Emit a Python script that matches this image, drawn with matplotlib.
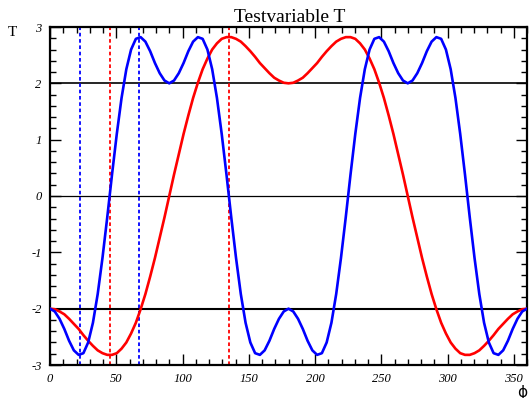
#!/usr/bin/env python3
"""Testvariable T vs phi — ROOT-style recreation (out.png)."""

import matplotlib
matplotlib.use("Agg")
import matplotlib.pyplot as plt
import numpy as np
from matplotlib.ticker import MultipleLocator

plt.rcParams["axes.unicode_minus"] = False

# --------------------------------------------------------------------------- #
# data (101 samples over 0..360 deg)
# --------------------------------------------------------------------------- #
PHI_MIN, PHI_MAX = 0.0, 360.0
N_POINTS = 101

T_RED = [
    -2.00, -2.01, -2.05, -2.10, -2.18, -2.27, -2.36, -2.47, -2.57, -2.66,
    -2.74, -2.79, -2.82, -2.82, -2.79, -2.71, -2.60, -2.44, -2.25, -2.01,
    -1.74, -1.43, -1.10, -0.74, -0.38, 0.00, 0.38, 0.74, 1.10, 1.43,
    1.74, 2.01, 2.25, 2.44, 2.60, 2.71, 2.79, 2.82, 2.82, 2.79,
    2.74, 2.66, 2.57, 2.47, 2.36, 2.27, 2.18, 2.10, 2.05, 2.01,
    2.00, 2.01, 2.05, 2.10, 2.18, 2.27, 2.36, 2.47, 2.57, 2.66,
    2.74, 2.79, 2.82, 2.82, 2.79, 2.71, 2.60, 2.44, 2.25, 2.01,
    1.74, 1.43, 1.10, 0.74, 0.38, 0.00, -0.38, -0.74, -1.10, -1.43,
    -1.74, -2.01, -2.25, -2.44, -2.60, -2.71, -2.79, -2.82, -2.82, -2.79,
    -2.74, -2.66, -2.57, -2.47, -2.36, -2.27, -2.18, -2.10, -2.05, -2.01,
    -2.00,
]

T_BLUE = [
    -2.00, -2.05, -2.18, -2.36, -2.57, -2.74, -2.82, -2.79, -2.60, -2.25,
    -1.74, -1.10, -0.38, 0.38, 1.10, 1.74, 2.25, 2.60, 2.79, 2.82,
    2.74, 2.57, 2.36, 2.18, 2.05, 2.00, 2.05, 2.18, 2.36, 2.57,
    2.74, 2.82, 2.79, 2.60, 2.25, 1.74, 1.10, 0.38, -0.38, -1.10,
    -1.74, -2.25, -2.60, -2.79, -2.82, -2.74, -2.57, -2.36, -2.18, -2.05,
    -2.00, -2.05, -2.18, -2.36, -2.57, -2.74, -2.82, -2.79, -2.60, -2.25,
    -1.74, -1.10, -0.38, 0.38, 1.10, 1.74, 2.25, 2.60, 2.79, 2.82,
    2.74, 2.57, 2.36, 2.18, 2.05, 2.00, 2.05, 2.18, 2.36, 2.57,
    2.74, 2.82, 2.79, 2.60, 2.25, 1.74, 1.10, 0.38, -0.38, -1.10,
    -1.74, -2.25, -2.60, -2.79, -2.82, -2.74, -2.57, -2.36, -2.18, -2.05,
    -2.00,
]

H_LINES = [2.0, 0.0, -2.0]
H_WIDTHS = [1.2, 0.9, 1.5]
BLUE_MARKS = [22.5, 67.5]
RED_MARKS = [45.0, 135.0]

# --------------------------------------------------------------------------- #
# colours / fonts
# --------------------------------------------------------------------------- #
COLOR_RED = "#FF0000"
COLOR_BLUE = "#0000FF"
SERIF = "Liberation Serif"


def main() -> None:
    phi = np.linspace(PHI_MIN, PHI_MAX, N_POINTS)

    fig = plt.figure(figsize=(5.30, 3.98), dpi=100)
    ax = fig.add_axes([50 / 530, 1 - 365 / 398, 477 / 530, 338 / 398])

    for y, lw in zip(H_LINES, H_WIDTHS):
        ax.axhline(y, color="black", lw=lw, zorder=1)
    for x in BLUE_MARKS:
        ax.axvline(x, color=COLOR_BLUE, lw=1.3, linestyle=(0, (2.0, 1.5)), zorder=2)
    for x in RED_MARKS:
        ax.axvline(x, color=COLOR_RED, lw=1.3, linestyle=(0, (2.0, 1.5)), zorder=2)

    ax.plot(phi, T_RED, color=COLOR_RED, lw=1.9, zorder=3)
    ax.plot(phi, T_BLUE, color=COLOR_BLUE, lw=1.9, zorder=4)

    ax.set_xlim(PHI_MIN, PHI_MAX)
    ax.set_ylim(-3, 3)
    ax.xaxis.set_major_locator(MultipleLocator(50))
    ax.xaxis.set_minor_locator(MultipleLocator(10))
    ax.yaxis.set_major_locator(MultipleLocator(1))
    ax.yaxis.set_minor_locator(MultipleLocator(0.2))
    ax.tick_params(which="both", direction="in", top=True, right=True, width=1.0)
    ax.tick_params(which="major", length=8)
    ax.tick_params(which="minor", length=4.5)
    ax.tick_params(axis="x", which="major", pad=6)
    ax.tick_params(axis="y", which="major", pad=6)
    for lab in ax.get_xticklabels() + ax.get_yticklabels():
        lab.set_family(SERIF)
        lab.set_style("italic")
        lab.set_fontsize(9)
    for sp in ax.spines.values():
        sp.set_linewidth(1.6)

    fig.text(289.5 / 530, 1 - 22 / 398, "Testvariable T", family=SERIF,
             fontsize=14, ha="center", va="baseline")
    fig.text(12 / 530, 1 - 32 / 398, "T", family=SERIF, fontsize=11,
             ha="center", va="center")
    fig.text(522 / 530, 1 - 392 / 398, "\u03d5", family="DejaVu Sans",
             fontsize=11, ha="center", va="center")

    fig.savefig("out.png", dpi=100)
    plt.close(fig)


if __name__ == "__main__":
    main()
